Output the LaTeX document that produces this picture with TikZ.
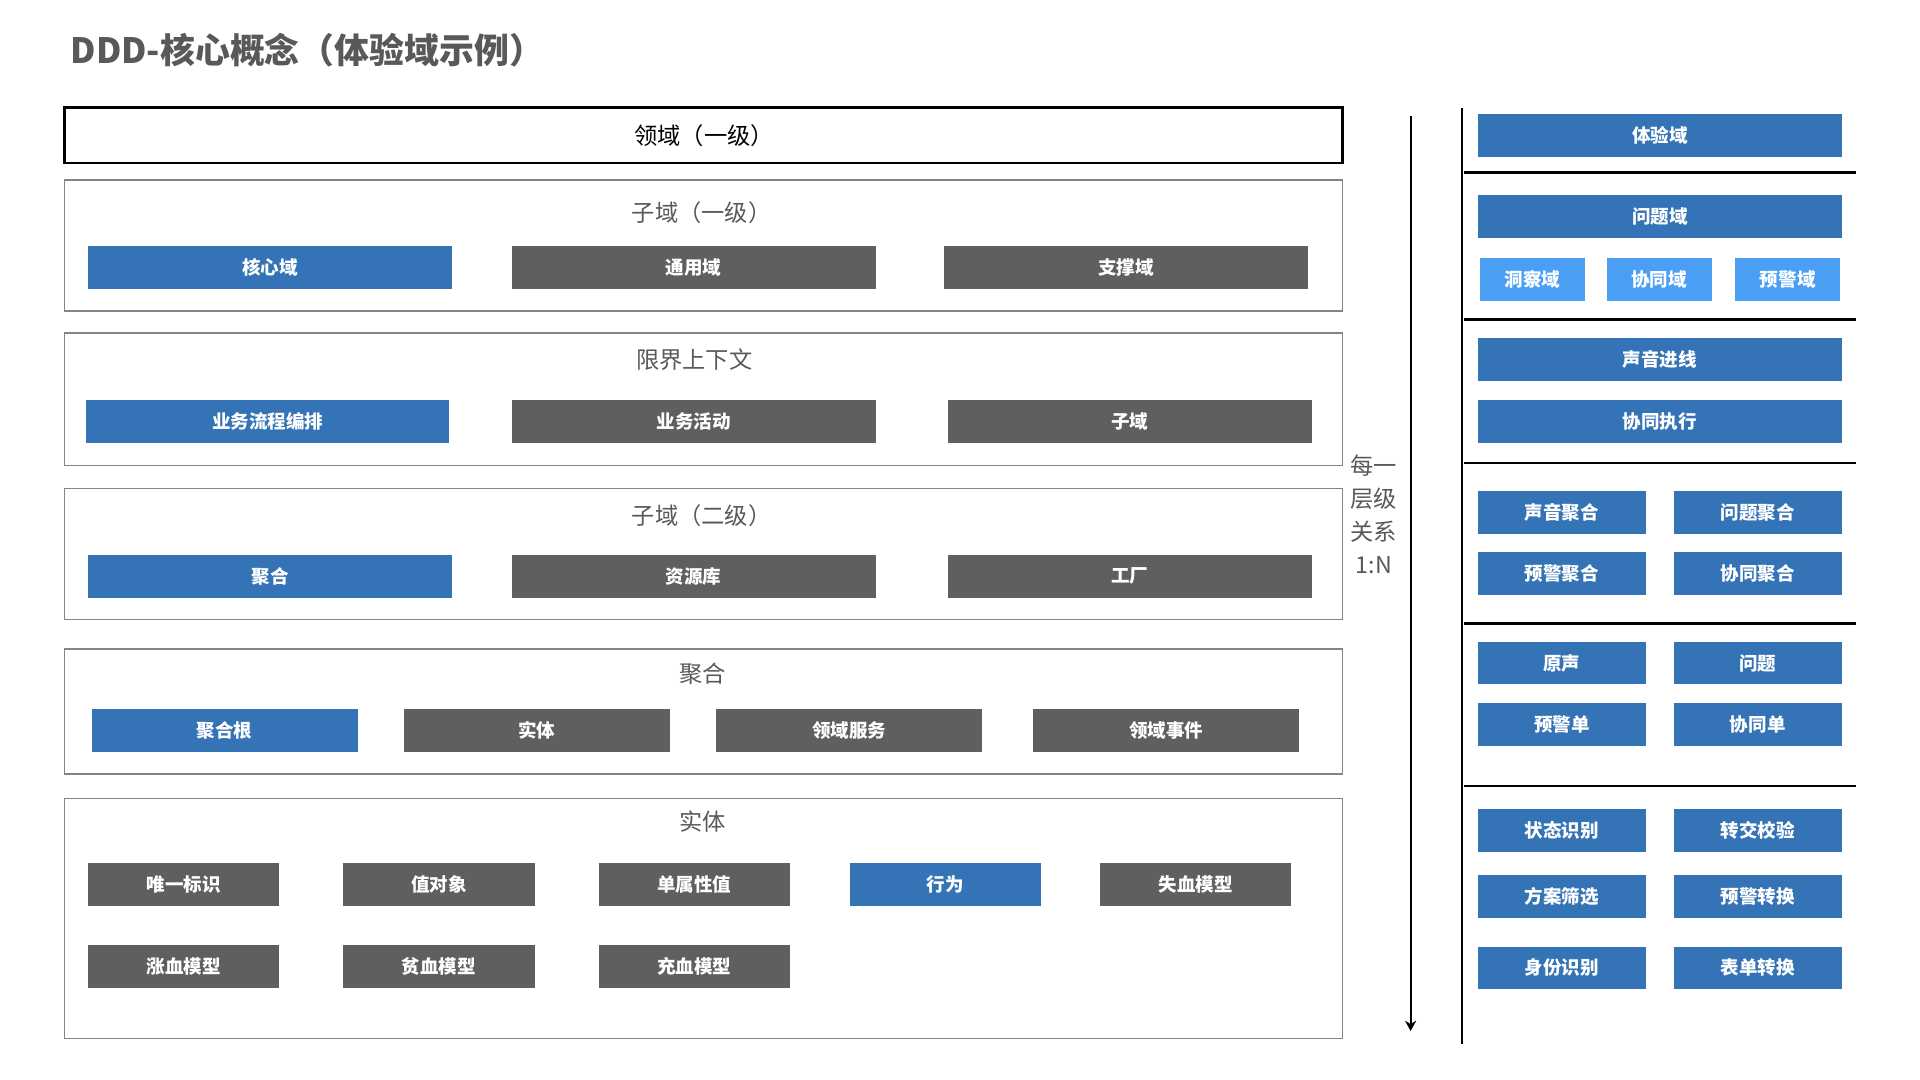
\documentclass[tikz,border=0pt]{standalone}
\usepackage{fontspec}
\newfontfamily\cjk{Noto Sans CJK SC}
\usetikzlibrary{arrows.meta,positioning}

\definecolor{dddblue}{HTML}{3473B5}
\definecolor{dddgray}{HTML}{5F5F5F}
\definecolor{dddlight}{HTML}{4A9FF5}
\definecolor{dddtext}{HTML}{595959}
\definecolor{dddline}{HTML}{858585}

\begin{document}
\begin{tikzpicture}[x=0.01cm, y=-0.01cm,
    panel/.style={rectangle, draw=dddline, line width=0.3pt, minimum width=10.43cm, inner sep=0pt},
    paneltitle/.style={text=dddtext, inner sep=0pt, font=\cjk\fontsize{5.4}{6}\selectfont},
    btn/.style={rectangle, inner sep=0pt, minimum height=0.35cm, text=white,
                font=\cjk\bfseries\fontsize{4.3}{5}\selectfont},
    bluebtn/.style={btn, fill=dddblue},
    graybtn/.style={btn, fill=dddgray},
    lightbtn/.style={btn, fill=dddlight, minimum width=0.86cm},
    wide/.style={minimum width=2.97cm},
    mid/.style={minimum width=2.17cm},
    narrow/.style={minimum width=1.56cm},
    half/.style={minimum width=1.37cm},
    sep/.style={line width=0.6pt, black}
]
\useasboundingbox (0,0) rectangle (1568,882);

% Title
\node[anchor=west, inner sep=0pt, text=dddtext, font=\cjk\bfseries\fontsize{8.1}{9}\selectfont]
    (title) at (57,41) {DDD-核心概念（体验域示例）};

% Domain
\node[panel, draw=black, line width=0.6pt, minimum height=0.45cm,
      font=\cjk\fontsize{5.4}{6}\selectfont] (domain) at (574.5,110.5) {};
\node[inner sep=0pt, font=\cjk\fontsize{5.4}{6}\selectfont] (domaintitle) at (575,110.5) {领域（一级）};

% Sub-domain level 1
\node[panel, minimum height=1.07cm] (sub1) at (574.5,200.5) {};
\node[paneltitle] (sub1title) at (573,174) {子域（一级）};
\node[bluebtn, wide] (core) at (220.5,218.5) {核心域};
\node[graybtn, wide] (generic) at (566.5,218.5) {通用域};
\node[graybtn, wide] (support) at (919.5,218.5) {支撑域};

% Bounded context
\node[panel, minimum height=1.08cm] (context) at (574.5,326) {};
\node[paneltitle] (contexttitle) at (567,294) {限界上下文};
\node[bluebtn, wide] (flow) at (218.5,344.5) {业务流程编排};
\node[graybtn, wide] (activity) at (566.5,344.5) {业务活动};
\node[graybtn, wide] (ctxsub) at (922.5,344.5) {子域};

% Sub-domain level 2
\node[panel, minimum height=1.07cm] (sub2) at (574.5,452.5) {};
\node[paneltitle] (sub2title) at (573,421) {子域（二级）};
\node[bluebtn, wide] (aggr) at (220.5,470.5) {聚合};
\node[graybtn, wide] (repo) at (566.5,470.5) {资源库};
\node[graybtn, wide] (factory) at (922.5,470.5) {工厂};

% Aggregate
\node[panel, minimum height=1.02cm] (aggregate) at (574.5,581) {};
\node[paneltitle] (aggregatetitle) at (574,550) {聚合};
\node[bluebtn, mid] (root) at (183.5,596.5) {聚合根};
\node[graybtn, mid] (entity) at (438.5,596.5) {实体};
\node[graybtn, mid] (service) at (693.5,596.5) {领域服务};
\node[graybtn, mid] (event) at (952.5,596.5) {领域事件};

% Entity
\node[panel, minimum height=1.96cm] (entitybox) at (574.5,750) {};
\node[paneltitle] (entitytitle) at (574,671) {实体};
\node[graybtn, narrow] (uid) at (150,722.5) {唯一标识};
\node[graybtn, narrow] (value) at (358.5,722.5) {值对象};
\node[graybtn, narrow] (single) at (567,722.5) {单属性值};
\node[bluebtn, narrow] (behave) at (772,722.5) {行为};
\node[graybtn, narrow] (bloodless) at (976.5,722.5) {失血模型};
\node[graybtn, narrow] (swollen) at (150,789.5) {涨血模型};
\node[graybtn, narrow] (anemic) at (358.5,789.5) {贫血模型};
\node[graybtn, narrow] (rich) at (567,789.5) {充血模型};

% Level arrow
\coordinate (arrowtop) at (1152,95);
\coordinate (arrowbot) at (1152,842);
\draw[line width=0.45pt, -{Stealth[length=2.4pt, width=2.6pt]}] (arrowtop) -- (arrowbot);
\node[text=dddtext, align=center, inner sep=0pt, font=\cjk\fontsize{5.4}{7.7}\selectfont]
    (ratio) at (1122,420) {每一\\层级\\关系\\1:N};

% Right column
\coordinate (railtop) at (1194,88);
\coordinate (railbot) at (1194,853);
\draw[sep] (railtop) -- (railbot);
\foreach \y in {141,261,378,509,642}
    \draw[sep] (1196,\y) -- (1516,\y);

\node[bluebtn, wide] (exp) at (1355.5,110.5) {体验域};
\node[bluebtn, wide] (problem) at (1355.5,176.5) {问题域};
\node[lightbtn] (insight) at (1251.5,228.5) {洞察域};
\node[lightbtn] (collab) at (1355,228.5) {协同域};
\node[lightbtn] (alert) at (1460,228.5) {预警域};

\node[bluebtn, wide] (voicein) at (1355.5,293.5) {声音进线};
\node[bluebtn, wide] (collabexec) at (1355.5,344.5) {协同执行};

\node[bluebtn, half] (voiceagg) at (1275.5,418.5) {声音聚合};
\node[bluebtn, half] (problemagg) at (1435.5,418.5) {问题聚合};
\node[bluebtn, half] (alertagg) at (1275.5,468.5) {预警聚合};
\node[bluebtn, half] (collabagg) at (1435.5,468.5) {协同聚合};

\node[bluebtn, half] (voice) at (1275.5,541.5) {原声};
\node[bluebtn, half] (issue) at (1435.5,541.5) {问题};
\node[bluebtn, half] (alertform) at (1275.5,591.5) {预警单};
\node[bluebtn, half] (collabform) at (1435.5,591.5) {协同单};

\node[bluebtn, half] (state) at (1275.5,678.5) {状态识别};
\node[bluebtn, half] (handover) at (1435.5,678.5) {转交校验};
\node[bluebtn, half] (plan) at (1275.5,732.5) {方案筛选};
\node[bluebtn, half] (alertconv) at (1435.5,732.5) {预警转换};
\node[bluebtn, half] (ident) at (1275.5,790.5) {身份识别};
\node[bluebtn, half] (formconv) at (1435.5,790.5) {表单转换};

\end{tikzpicture}
\end{document}
